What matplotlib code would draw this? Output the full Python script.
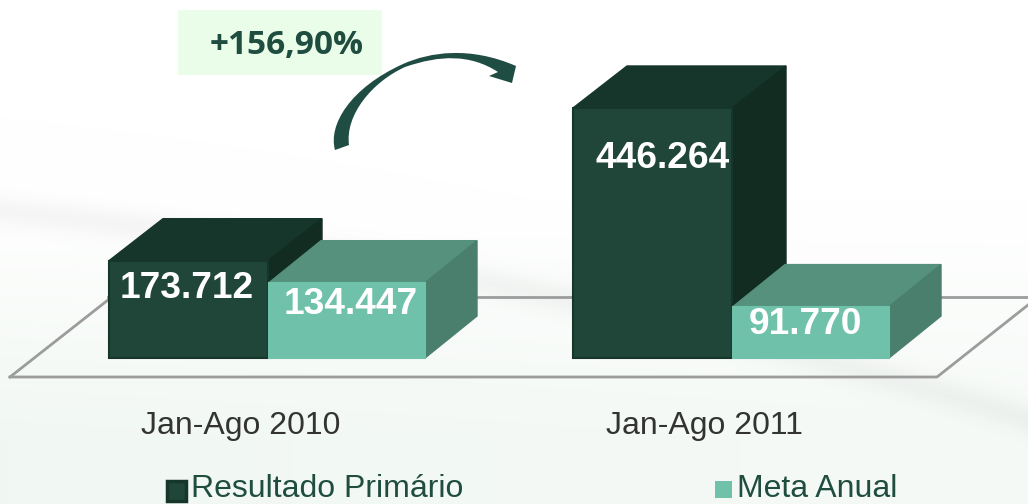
import numpy as np
import matplotlib
matplotlib.use('Agg')
import matplotlib.pyplot as plt
from matplotlib.patches import Polygon, PathPatch, Rectangle
from matplotlib.path import Path
from matplotlib.transforms import Affine2D

periods = ['Jan-Ago 2010', 'Jan-Ago 2011']
series_names = ['Resultado Primário', 'Meta Anual']
resultado = [173712, 446264]
meta = [134447, 91770]
value_labels_res = ['173.712', '446.264']
value_labels_meta = ['134.447', '91.770']
change_label = '+156,90%'

W, H = 1028, 504
BASE = 358            # pixel row of the value 0
PX_PER_UNIT = 250 / 446264

plt.rcParams['font.family'] = ['Liberation Sans', 'DejaVu Sans']

fig = plt.figure(figsize=(W / 100, H / 100), dpi=100)
ax = fig.add_axes([0, 0, 1, 1])
ax.set_xlim(0, W)
ax.set_ylim(-(H - BASE) / PX_PER_UNIT, BASE / PX_PER_UNIT)
ax.axis('off')

# image pixels (y down) to display
px = Affine2D().scale(1, -1).translate(0, H)

# background, white top fading to pale green at the bottom, with a soft swoosh
yy, xx = np.mgrid[0:H, 0:W]
fade = np.clip((yy - 200) / 240, 0, 1)
fade = fade * (0.7 + 0.3 * np.clip(1 - xx / W, 0, 1))
curve = 210 + 0.1 * xx + 0.0001 * xx ** 2
band = np.exp(-((yy - curve) / 16.0) ** 2) * 0.035
bg = np.ones((H, W, 3))
bg[..., 0] -= 0.055 * fade + band
bg[..., 1] -= 0.03 * fade + band
bg[..., 2] -= 0.05 * fade + band
ax.imshow(bg, extent=[0, W, ax.get_ylim()[0], ax.get_ylim()[1]], aspect='auto', zorder=0)
ax.set_xlim(0, W)

# floor
floor = [(10, 377), (937, 377), (1028, 305)]
ax.plot(*zip(*floor), color='#9c9c9c', lw=2, transform=px, zorder=2)
ax.plot([10, 108], [377, 300], color='#9c9c9c', lw=2, transform=px, zorder=2)
ax.plot([108, 1028], [297, 297], color='#9c9c9c', lw=2, transform=px, zorder=2)


def box(x, width, value, dx, front, top, side, edge):
    dy = 42 / PX_PER_UNIT
    ax.add_patch(Polygon([(x, value), (x + dx, value + dy), (x + width + dx, value + dy), (x + width, value)],
                         closed=True, fc=top, ec=top, lw=1, zorder=3))
    ax.add_patch(Polygon([(x + width, value), (x + width + dx, value + dy), (x + width + dx, dy), (x + width, 0)],
                         closed=True, fc=side, ec=side, lw=1, zorder=3))
    ax.bar(x, value, width=width, align='edge', color=front, edgecolor=edge, linewidth=1.5, zorder=4)


res_x = [109, 573]
meta_x = [269, 733]
label_x = [241, 704]
for i in range(2):
    box(res_x[i], 159, resultado[i], 54, '#1f4639', '#16362b', '#122c22', '#16362b')
    box(meta_x[i], 156, meta[i], 52, '#6fc1a9', '#55917d', '#4a7f6e', '#6fc1a9')
    ax.text(label_x[i], 426, periods[i], transform=px, ha='center', va='center',
            fontsize=23, color='#333333', zorder=6)

res_lab_pos = [(187, 289), (663, 159)]
meta_lab_pos = [(351, 305), (805, 325)]
for i in range(2):
    ax.text(*res_lab_pos[i], value_labels_res[i], transform=px, ha='center', va='center',
            fontsize=26.7, fontweight='bold', color='white', zorder=6)
    ax.text(*meta_lab_pos[i], value_labels_meta[i], transform=px, ha='center', va='center',
            fontsize=26.7, fontweight='bold', color='white', zorder=6)

# change box
ax.add_patch(Rectangle((178, 10), 204, 65, fc='#e9fde9', ec='none', transform=px, zorder=3))
ax.text(287, 45, change_label, transform=px, ha='center', va='center', fontsize=24,
        fontweight='bold', family=['Open Sans', 'DejaVu Sans'], color='#1f4d40', zorder=6)

# curved arrow
verts = [(335, 150), (328, 125), (350, 88), (403, 64),
         (430, 52), (470, 46), (516, 66),
         (512, 83), (489, 76), (498, 72),
         (470, 54), (440, 55), (405, 67),
         (372, 82), (345, 115), (349, 145), (335, 150)]
codes = [Path.MOVETO, Path.CURVE4, Path.CURVE4, Path.CURVE4,
         Path.CURVE4, Path.CURVE4, Path.CURVE4,
         Path.LINETO, Path.LINETO, Path.LINETO,
         Path.CURVE4, Path.CURVE4, Path.CURVE4,
         Path.CURVE4, Path.CURVE4, Path.CURVE4, Path.CLOSEPOLY]
ax.add_patch(PathPatch(Path(verts, codes), fc='#1f4d44', ec='none', transform=px, zorder=5))

# legend
ax.add_patch(Rectangle((167, 481), 19, 20, fc='#1f4639', ec='#16362b', lw=2.5, transform=px, zorder=5))
ax.text(191, 497, series_names[0], transform=px, va='baseline', fontsize=23, color='#1f4d40', zorder=6)
ax.add_patch(Rectangle((715, 481), 17, 17, fc='#6fc1a9', ec='none', transform=px, zorder=5))
ax.text(737, 497, series_names[1], transform=px, va='baseline', fontsize=23, color='#1f4d40', zorder=6)

fig.savefig('out.png', dpi=100)
